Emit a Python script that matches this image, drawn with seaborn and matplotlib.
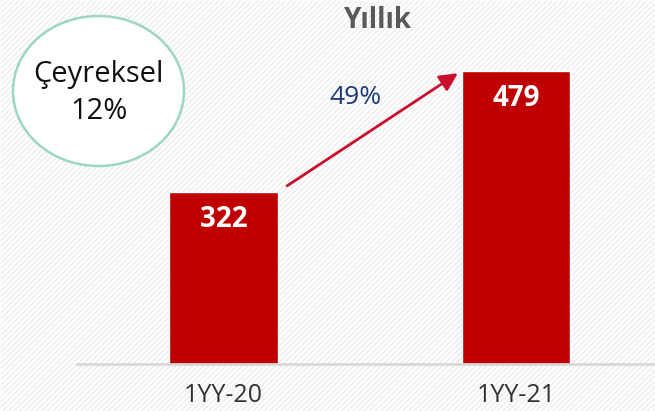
import matplotlib
matplotlib.use("Agg")
import matplotlib.pyplot as plt
from matplotlib.patches import Ellipse, Rectangle
import pandas as pd
import seaborn as sns

# data
periods = ["1YY-20", "1YY-21"]
values = [322, 479]
growth_label = "49%"
title = "Yıllık"
quarter_label = "Çeyreksel\n12%"

BAR_RED = "#c00000"
ARROW_RED = "#c8102e"
NAVY = "#1f3a78"

sns.set_theme(style="white")
plt.rcParams["font.family"] = ["Open Sans", "DejaVu Sans"]
plt.rcParams["hatch.linewidth"] = 1.6
plt.rcParams["hatch.color"] = "white"

df = pd.DataFrame({"period": periods, "value": values})

fig = plt.figure(figsize=(6.55, 4.11), dpi=100)
fig.patch.set_facecolor("#efefef")
# striped background
fig.patches.append(Rectangle((0, 0), 1, 1, transform=fig.transFigure,
                             facecolor="#efefef", edgecolor="white",
                             hatch="//////", linewidth=0.5, zorder=0))

ax = fig.add_axes([0, 47 / 411, 1, 364 / 411])
ax.set_facecolor("none")
ax.set_zorder(1)

sns.barplot(data=df, x="period", y="value", color=BAR_RED, width=0.369,
            saturation=1, ax=ax)

ax.set_xlim(-0.763, 1.473)
ax.set_ylim(99, 571)

for s in ["top", "left", "right"]:
    ax.spines[s].set_visible(False)
ax.spines["bottom"].set_color("#d9d9d9")
ax.spines["bottom"].set_linewidth(2)
ax.spines["bottom"].set_bounds(-0.5, 1.5)
ax.set_yticks([])
ax.set_xlabel("")
ax.set_ylabel("")
ax.tick_params(axis="x", length=0, pad=14, labelsize=18, labelcolor="#333333")

# value labels inside bars
for i, v in enumerate(values):
    ax.text(i, v - 36, f"{v}", ha="center", va="center", color="white",
            fontsize=20, fontweight="bold")

# growth arrow
ax.annotate("", xy=(0.80, values[1] - 3), xytext=(0.217, values[0] + 8),
            arrowprops=dict(arrowstyle="-|>,head_length=0.9,head_width=0.45",
                            color=ARROW_RED, lw=2, shrinkA=0, shrinkB=0))
ax.text(0.45, 444, growth_label, ha="center", va="center", color=NAVY,
        fontsize=19)

# title
fig.text(378 / 655, 1 - 20 / 411, title, ha="center", va="center",
         color="#595959", fontsize=20, fontweight="bold", zorder=3)

# quarterly bubble
fig.patches.append(Ellipse((98.5 / 655, 1 - 91 / 411), 171 / 655, 150 / 411,
                           transform=fig.transFigure, facecolor="white",
                           edgecolor="#9dd6c8", linewidth=1.8, zorder=2))
fig.text(98.5 / 655, 1 - 93 / 411, quarter_label, ha="center", va="center",
         color="#111111", fontsize=21, linespacing=1.4, zorder=3)

fig.savefig("out.png", dpi=100, facecolor=fig.get_facecolor())
